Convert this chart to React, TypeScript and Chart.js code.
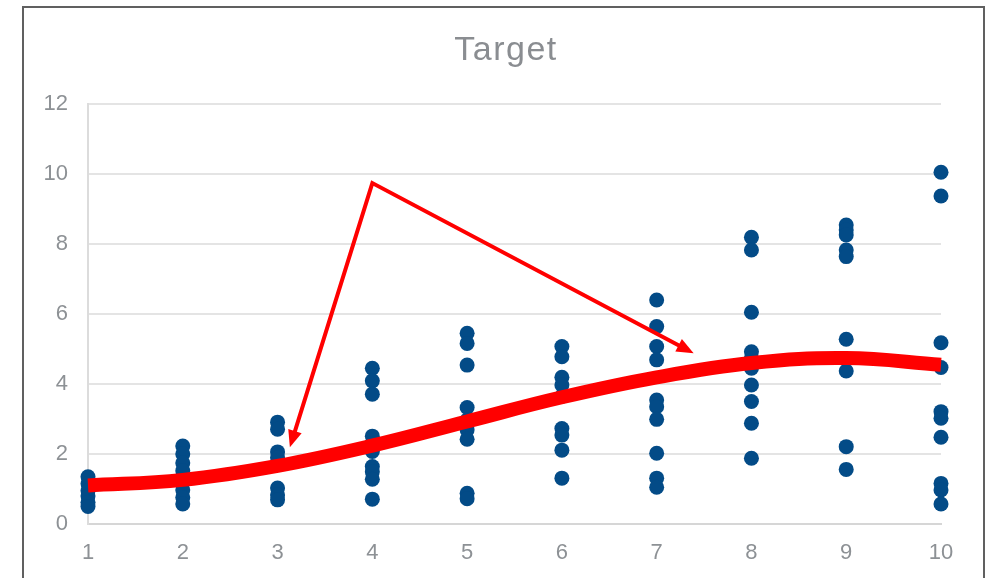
import React, { useEffect, useRef } from "react";
import { Chart, registerables } from "chart.js";

Chart.register(...registerables);

// Observation groups: x position and the measured values at that position
const xGroups = [1, 2, 3, 4, 5, 6, 7, 8, 9, 10];
const group1 = [1.35, 1.15, 0.95, 0.8, 0.62, 0.5];
const group2 = [2.23, 2.0, 1.74, 1.52, 1.3, 0.97, 0.76, 0.57];
const group3 = [2.91, 2.71, 2.06, 1.89, 1.03, 0.83, 0.69];
const group4 = [4.45, 4.09, 3.71, 2.51, 2.3, 2.07, 1.64, 1.49, 1.28, 0.71];
const group5 = [5.45, 5.16, 4.54, 3.33, 2.97, 2.69, 2.42, 0.88, 0.72];
const group6 = [5.07, 4.78, 4.19, 3.97, 3.65, 2.73, 2.54, 2.11, 1.31];
const group7 = [6.4, 5.64, 5.07, 4.69, 3.54, 3.35, 2.99, 2.02, 1.31, 1.05];
const group8 = [8.19, 7.83, 6.05, 4.92, 4.73, 4.45, 3.97, 3.5, 2.88, 1.88];
const group9 = [8.54, 8.4, 8.26, 7.83, 7.64, 5.28, 4.37, 2.21, 1.56];
const group10 = [10.05, 9.37, 5.18, 4.47, 3.21, 3.02, 2.48, 1.16, 0.97, 0.57];
const groups = [group1, group2, group3, group4, group5, group6, group7, group8, group9, group10];

// Polynomial trend values at each x
const trendValues = [1.1, 1.26, 1.66, 2.24, 2.93, 3.62, 4.19, 4.6, 4.74, 4.55];

// Callout arrows: shared apex and the two tips (data coordinates)
const arrowApex = { x: 4.0, y: 9.74 };
const arrowTips = [
  { x: 3.13, y: 2.19 },
  { x: 7.39, y: 4.88 },
];

const xTicks = [1, 2, 3, 4, 5, 6, 7, 8, 9, 10];
const yTicks = [0, 2, 4, 6, 8, 10, 12];

const titleText = "Target";
const GREY = "#8d9195";
const FONT = '"Liberation Sans", Arial, sans-serif';

const titlePlugin = {
  id: "targetTitle",
  afterDraw(chart: any) {
    const { ctx } = chart;
    ctx.save();
    ctx.font = `34px ${FONT}`;
    ctx.fillStyle = "#8a8d91";
    ctx.textAlign = "center";
    ctx.textBaseline = "alphabetic";
    (ctx as any).letterSpacing = "1.5px";
    ctx.fillText(titleText, 506, 60);
    ctx.restore();
  },
};

const arrowPlugin = {
  id: "calloutArrows",
  afterDatasetsDraw(chart: any) {
    const { ctx, scales } = chart;
    const sx = scales.x;
    const sy = scales.y;
    const apex = { x: sx.getPixelForValue(arrowApex.x), y: sy.getPixelForValue(arrowApex.y) };
    const tips = arrowTips.map((t) => ({ x: sx.getPixelForValue(t.x), y: sy.getPixelForValue(t.y) }));
    const headLen = 17;
    const headHalf = 7;
    const bases = tips.map((t) => {
      const dx = t.x - apex.x;
      const dy = t.y - apex.y;
      const len = Math.hypot(dx, dy);
      const ux = dx / len;
      const uy = dy / len;
      return { ux, uy, bx: t.x - ux * headLen, by: t.y - uy * headLen };
    });
    ctx.save();
    ctx.strokeStyle = "#ff0000";
    ctx.fillStyle = "#ff0000";
    ctx.lineWidth = 4;
    ctx.lineJoin = "miter";
    ctx.beginPath();
    ctx.moveTo(bases[0].bx + bases[0].ux * 2, bases[0].by + bases[0].uy * 2);
    ctx.lineTo(apex.x, apex.y);
    ctx.lineTo(bases[1].bx + bases[1].ux * 2, bases[1].by + bases[1].uy * 2);
    ctx.stroke();
    tips.forEach((t, i) => {
      const b = bases[i];
      ctx.beginPath();
      ctx.moveTo(t.x, t.y);
      ctx.lineTo(b.bx - b.uy * headHalf, b.by + b.ux * headHalf);
      ctx.lineTo(b.bx + b.uy * headHalf, b.by - b.ux * headHalf);
      ctx.closePath();
      ctx.fill();
    });
    ctx.restore();
  },
};

export default function App() {
  const canvasRef = useRef<HTMLCanvasElement | null>(null);

  useEffect(() => {
    const canvas = canvasRef.current;
    if (!canvas) return;
    const points: { x: number; y: number }[] = [];
    groups.forEach((vals, i) => vals.forEach((v) => points.push({ x: xGroups[i], y: v })));
    const trend = xGroups.map((x, i) => ({ x, y: trendValues[i] }));

    const chart = new Chart(canvas, {
      type: "scatter",
      data: {
        datasets: [
          {
            type: "line",
            label: "Trend",
            data: trend,
            borderColor: "#ff0000",
            borderWidth: 14,
            pointRadius: 0,
            tension: 0.4,
            fill: false,
            clip: false,
            order: 0,
          } as any,
          {
            type: "scatter",
            label: "Target",
            data: points,
            backgroundColor: "#034b87",
            borderWidth: 0,
            pointRadius: 7.5,
            clip: false,
            order: 1,
          } as any,
        ],
      },
      options: {
        animation: false,
        responsive: false,
        maintainAspectRatio: false,
        devicePixelRatio: 1,
        layout: { padding: { left: 0, right: 46, top: 104, bottom: 0 } },
        plugins: {
          legend: { display: false },
          title: { display: false },
          tooltip: { enabled: false },
        },
        scales: {
          x: {
            type: "linear",
            min: 1,
            max: 10,
            afterBuildTicks(scale: any) {
              scale.ticks = xTicks.map((v) => ({ value: v }));
            },
            afterFit(scale: any) {
              scale.height = 54;
            },
            ticks: {
              color: GREY,
              font: { family: FONT, size: 22 },
              padding: 16,
              maxRotation: 0,
            },
            grid: { display: false, drawTicks: false },
            border: { display: true, color: "#d6d6d6", width: 2 },
          },
          y: {
            type: "linear",
            min: 0,
            max: 12,
            afterBuildTicks(scale: any) {
              scale.ticks = yTicks.map((v) => ({ value: v }));
            },
            afterFit(scale: any) {
              scale.width = 88;
            },
            ticks: {
              color: GREY,
              font: { family: FONT, size: 22 },
              padding: 20,
            },
            grid: { color: "#e4e4e4", lineWidth: 2, drawTicks: false },
            border: { display: true, color: "#dcdcdc", width: 2 },
          },
        },
      },
      plugins: [titlePlugin, arrowPlugin],
    });
    return () => chart.destroy();
  }, []);

  return (
    <div style={{ position: "fixed", inset: 0, overflow: "hidden", background: "#fff" }}>
      <div
        style={{
          position: "absolute",
          left: 22,
          top: 6,
          width: 963,
          height: 640,
          border: "2px solid #606060",
          boxSizing: "border-box",
        }}
      />
      <canvas
        ref={canvasRef}
        width={987}
        height={578}
        style={{ position: "absolute", left: 0, top: 0, width: 987, height: 578 }}
      />
    </div>
  );
}
